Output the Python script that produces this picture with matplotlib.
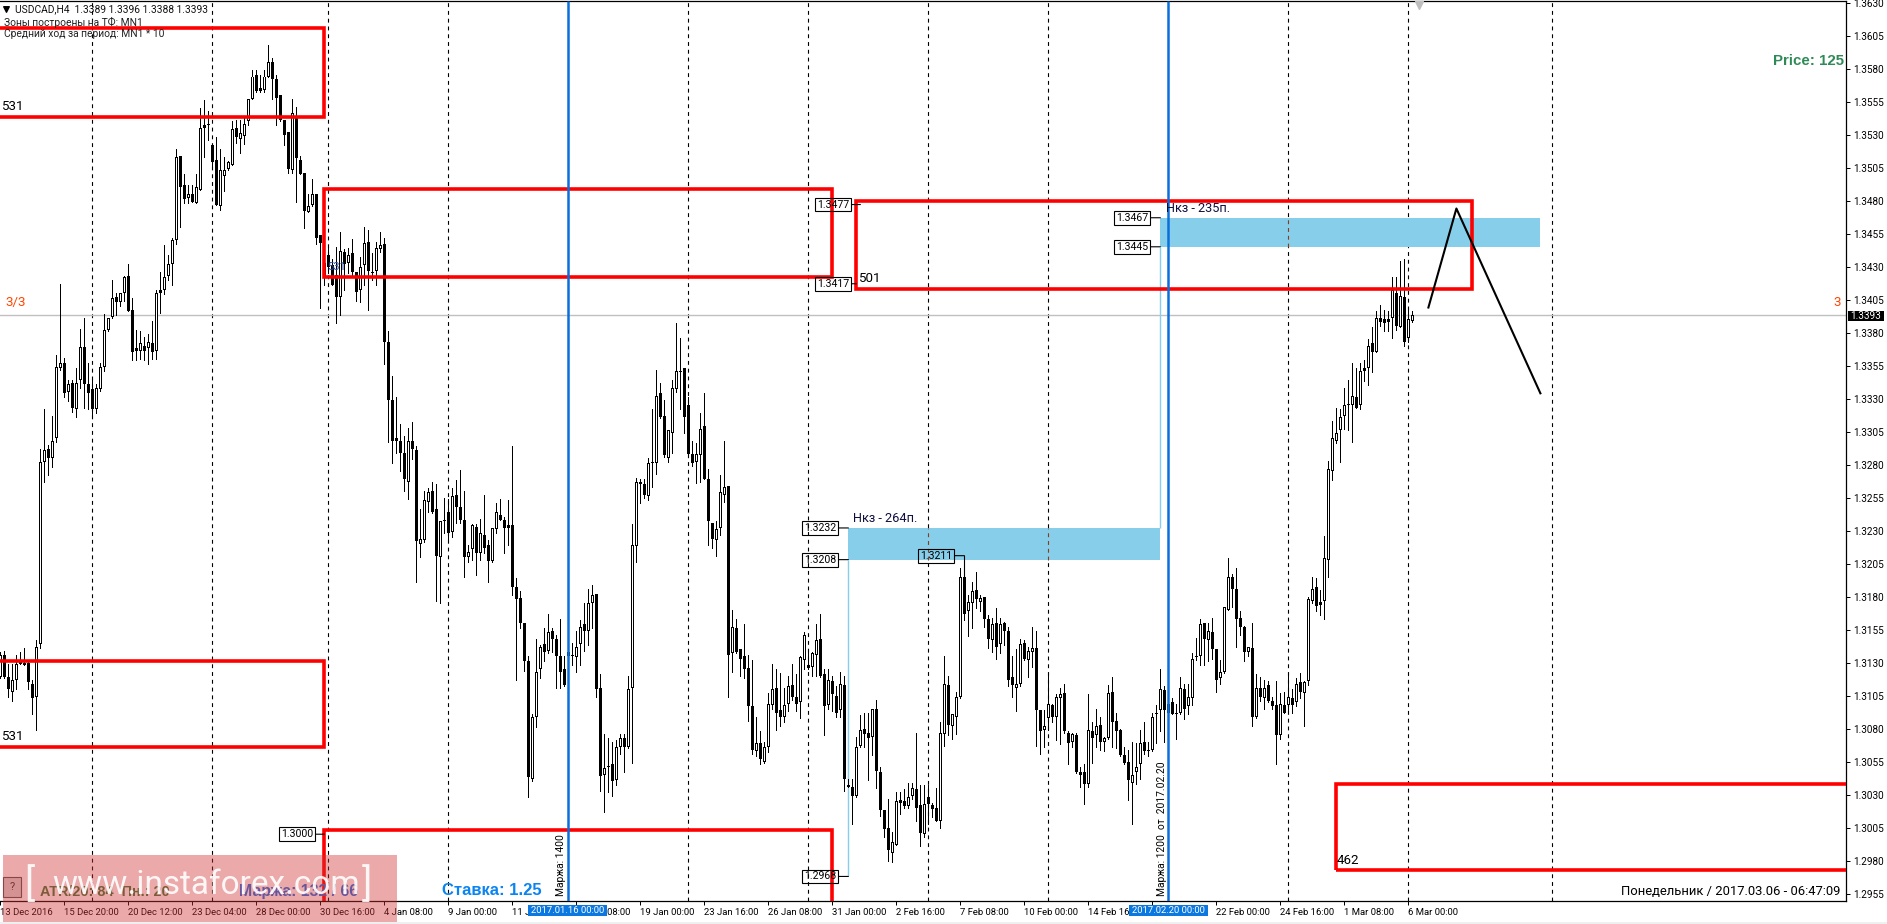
import matplotlib
matplotlib.use("Agg")
import matplotlib.pyplot as plt
from matplotlib.patches import Rectangle

plt.rcParams["font.family"] = ["Roboto", "DejaVu Sans"]

W, H = 1887, 924

# USDCAD H4, prices in points (13393 = 1.3393), one value per bar
opens = [
    13119, 13136, 13119, 13108, 13117, 13132, 13130, 13130, 13114, 13104,
    13144, 13282, 13292, 13285, 13300, 13353, 13357, 13335, 13342, 13322,
    13344, 13369, 13341, 13337, 13322, 13337, 13354, 13382, 13392, 13407,
    13403, 13410, 13423, 13397, 13366, 13366, 13370, 13368, 13372, 13366,
    13412, 13412, 13423, 13432, 13450, 13514, 13492, 13482, 13485, 13478,
    13488, 13535, 13538, 13522, 13511, 13476, 13499, 13504, 13507, 13535,
    13527, 13529, 13540, 13557, 13575, 13565, 13564, 13574, 13585, 13572,
    13560, 13541, 13532, 13503, 13544, 13511, 13501, 13471, 13477, 13485,
    13454, 13423, 13439, 13431, 13424, 13407, 13441, 13433, 13440, 13426,
    13412, 13431, 13449, 13426, 13427, 13443, 13447, 13373, 13329, 13298,
    13298, 13289, 13267, 13298, 13291, 13220, 13223, 13252, 13260, 13246,
    13210, 13238, 13244, 13229, 13257, 13248, 13238, 13210, 13216, 13233,
    13213, 13227, 13219, 13207, 13231, 13242, 13238, 13234, 13234, 13187,
    13179, 13160, 13131, 13042, 13089, 13125, 13144, 13139, 13154, 13148,
    13135, 13125, 13138, 13136, 13134, 13144, 13159, 13154, 13175, 13182,
    13111, 13045, 13051, 13053, 13041, 13066, 13073, 13066, 13111, 13218,
    13267, 13265, 13256, 13282, 13281, 13334, 13317, 13285, 13304, 13337,
    13351, 13353, 13325, 13288, 13282, 13287, 13309, 13269, 13236, 13223,
    13232, 13257, 13264, 13137, 13156, 13140, 13135, 13126, 13097, 13063,
    13069, 13055, 13066, 13098, 13111, 13094, 13089, 13099, 13113, 13104,
    13100, 13132, 13128, 13127, 13136, 13148, 13121, 13098, 13116, 13105,
    13094, 13113, 13037, 13036, 13029, 13067, 13080, 13077, 13074, 13095,
    13047, 13018, 13005, 12986, 12992, 13024, 13025, 13021, 13029, 13034,
    13022, 13000, 13028, 13022, 13020, 13010, 13076, 13113, 13082, 13089,
    13104, 13195, 13169, 13175, 13185, 13176, 13180, 13163, 13147, 13160,
    13144, 13160, 13154, 13119, 13111, 13114, 13145, 13132, 13138, 13141,
    13094, 13079, 13088, 13098, 13089, 13103, 13107, 13077, 13070, 13075,
    13047, 13047, 13038, 13078, 13075, 13083, 13070, 13073, 13108, 13086,
    13079, 13060, 13055, 13039, 13047, 13053, 13070, 13064, 13064, 13091,
    13094, 13109, 13099, 13100, 13092, 13092, 13110, 13097, 13103, 13135,
    13135, 13160, 13147, 13153, 13140, 13118, 13123, 13170, 13195, 13186,
    13164, 13157, 13138, 13141, 13089, 13111, 13103, 13113, 13101, 13098,
    13075, 13098, 13098, 13103, 13100, 13115, 13107, 13116, 13177, 13187,
    13174, 13177, 13208, 13275, 13298, 13306, 13317, 13326, 13325, 13331,
    13325, 13353, 13353, 13372, 13365, 13391, 13390, 13388, 13391, 13410,
    13384, 13407, 13376, 13389,
]
highs = [
    13138, 13139, 13129, 13129, 13136, 13138, 13141, 13131, 13117, 13147,
    13292, 13322, 13295, 13317, 13363, 13417, 13361, 13344, 13344, 13353,
    13383, 13391, 13357, 13345, 13341, 13357, 13394, 13391, 13420, 13410,
    13410, 13423, 13432, 13406, 13382, 13381, 13377, 13379, 13389, 13412,
    13426, 13446, 13439, 13452, 13519, 13514, 13500, 13492, 13492, 13500,
    13550, 13556, 13548, 13522, 13528, 13519, 13513, 13510, 13540, 13541,
    13541, 13543, 13557, 13579, 13579, 13575, 13579, 13598, 13588, 13575,
    13560, 13541, 13532, 13557, 13551, 13514, 13501, 13485, 13496, 13485,
    13454, 13439, 13445, 13436, 13445, 13456, 13443, 13444, 13451, 13426,
    13437, 13460, 13458, 13440, 13449, 13456, 13452, 13381, 13347, 13331,
    13311, 13302, 13308, 13312, 13294, 13246, 13260, 13262, 13267, 13265,
    13237, 13255, 13254, 13262, 13268, 13276, 13260, 13219, 13235, 13235,
    13239, 13257, 13223, 13232, 13251, 13254, 13240, 13253, 13294, 13194,
    13184, 13160, 13135, 13091, 13148, 13143, 13156, 13167, 13156, 13151,
    13163, 13135, 13145, 13145, 13154, 13162, 13175, 13186, 13189, 13182,
    13121, 13076, 13073, 13070, 13071, 13076, 13076, 13120, 13235, 13270,
    13269, 13269, 13285, 13322, 13352, 13342, 13329, 13306, 13344, 13387,
    13376, 13353, 13331, 13298, 13296, 13319, 13334, 13277, 13236, 13237,
    13272, 13298, 13264, 13170, 13163, 13140, 13159, 13136, 13132, 13089,
    13078, 13070, 13107, 13129, 13125, 13122, 13111, 13120, 13129, 13121,
    13135, 13153, 13140, 13138, 13159, 13167, 13125, 13125, 13120, 13112,
    13123, 13120, 13042, 13042, 13074, 13090, 13092, 13092, 13095, 13102,
    13051, 13018, 13027, 13002, 13032, 13032, 13034, 13039, 13039, 13077,
    13037, 13037, 13037, 13024, 13035, 13085, 13135, 13120, 13091, 13108,
    13202, 13211, 13181, 13191, 13199, 13181, 13180, 13166, 13164, 13171,
    13164, 13161, 13157, 13135, 13140, 13148, 13147, 13142, 13157, 13154,
    13094, 13094, 13122, 13099, 13106, 13111, 13114, 13078, 13077, 13077,
    13051, 13053, 13106, 13085, 13095, 13089, 13074, 13113, 13119, 13092,
    13080, 13066, 13064, 13070, 13069, 13079, 13085, 13070, 13092, 13098,
    13125, 13112, 13112, 13103, 13099, 13119, 13114, 13114, 13137, 13149,
    13163, 13160, 13160, 13164, 13140, 13132, 13172, 13209, 13197, 13202,
    13169, 13158, 13142, 13160, 13121, 13119, 13117, 13116, 13104, 13116,
    13107, 13108, 13122, 13110, 13118, 13122, 13116, 13180, 13195, 13194,
    13185, 13226, 13283, 13313, 13323, 13322, 13338, 13344, 13357, 13353,
    13357, 13359, 13375, 13384, 13396, 13401, 13397, 13396, 13422, 13422,
    13434, 13436, 13399, 13396,
]
lows = [
    13118, 13118, 13104, 13101, 13110, 13129, 13128, 13110, 13091, 13079,
    13141, 13267, 13272, 13278, 13297, 13352, 13331, 13328, 13320, 13316,
    13338, 13323, 13322, 13315, 13319, 13336, 13351, 13381, 13391, 13393,
    13400, 13404, 13396, 13359, 13359, 13360, 13359, 13356, 13360, 13360,
    13395, 13409, 13420, 13416, 13447, 13460, 13478, 13478, 13479, 13478,
    13488, 13513, 13526, 13506, 13477, 13473, 13487, 13503, 13507, 13524,
    13516, 13523, 13537, 13557, 13562, 13562, 13562, 13574, 13557, 13537,
    13540, 13522, 13501, 13501, 13479, 13500, 13459, 13471, 13476, 13447,
    13399, 13416, 13425, 13416, 13387, 13393, 13412, 13425, 13422, 13404,
    13403, 13416, 13397, 13420, 13416, 13441, 13356, 13297, 13281, 13289,
    13275, 13260, 13254, 13284, 13191, 13210, 13221, 13244, 13243, 13177,
    13175, 13228, 13224, 13225, 13236, 13236, 13195, 13206, 13208, 13196,
    13208, 13213, 13191, 13206, 13228, 13238, 13213, 13219, 13181, 13117,
    13156, 13124, 13028, 13040, 13081, 13118, 13131, 13137, 13138, 13111,
    13111, 13112, 13124, 13128, 13123, 13128, 13139, 13143, 13156, 13104,
    13033, 13017, 13032, 13029, 13037, 13061, 13047, 13065, 13054, 13206,
    13251, 13255, 13253, 13263, 13273, 13315, 13286, 13282, 13289, 13335,
    13322, 13304, 13288, 13279, 13266, 13267, 13269, 13219, 13217, 13211,
    13227, 13252, 13104, 13123, 13137, 13120, 13118, 13086, 13061, 13059,
    13053, 13054, 13062, 13095, 13079, 13082, 13085, 13093, 13102, 13093,
    13088, 13125, 13125, 13120, 13120, 13119, 13075, 13095, 13093, 13089,
    13089, 13033, 13036, 13008, 13028, 13066, 13066, 13041, 13060, 13035,
    13014, 12998, 12980, 12979, 12992, 13015, 13020, 13020, 13027, 13010,
    12991, 12998, 13008, 13013, 13010, 13005, 13067, 13075, 13072, 13076,
    13103, 13162, 13150, 13156, 13171, 13169, 13157, 13141, 13138, 13133,
    13137, 13143, 13112, 13104, 13093, 13112, 13132, 13119, 13127, 13067,
    13061, 13066, 13079, 13085, 13071, 13068, 13077, 13053, 13066, 13046,
    13036, 13023, 13036, 13054, 13066, 13064, 13063, 13072, 13066, 13065,
    13059, 13053, 13026, 13008, 13038, 13042, 13061, 13059, 13063, 13069,
    13078, 13070, 13090, 13091, 13072, 13091, 13087, 13091, 13098, 13132,
    13128, 13128, 13131, 13133, 13108, 13114, 13122, 13170, 13172, 13142,
    13151, 13131, 13135, 13082, 13088, 13101, 13095, 13100, 13095, 13053,
    13072, 13092, 13092, 13092, 13097, 13103, 13082, 13113, 13175, 13169,
    13166, 13163, 13195, 13268, 13296, 13282, 13307, 13306, 13297, 13323,
    13322, 13343, 13340, 13350, 13365, 13385, 13381, 13381, 13376, 13382,
    13384, 13370, 13373, 13388,
]
closes = [
    13136, 13119, 13110, 13117, 13129, 13129, 13128, 13115, 13103, 13142,
    13282, 13291, 13285, 13298, 13354, 13357, 13334, 13341, 13323, 13342,
    13369, 13341, 13334, 13322, 13338, 13354, 13382, 13391, 13406, 13403,
    13410, 13422, 13396, 13365, 13368, 13372, 13366, 13373, 13365, 13410,
    13410, 13422, 13432, 13450, 13513, 13490, 13481, 13485, 13479, 13490,
    13535, 13537, 13537, 13509, 13477, 13503, 13503, 13509, 13534, 13528,
    13531, 13538, 13557, 13574, 13563, 13563, 13574, 13585, 13572, 13558,
    13541, 13530, 13504, 13546, 13512, 13500, 13472, 13476, 13485, 13452,
    13448, 13433, 13430, 13416, 13407, 13442, 13432, 13439, 13426, 13411,
    13430, 13448, 13427, 13425, 13444, 13446, 13373, 13329, 13298, 13300,
    13289, 13269, 13298, 13292, 13222, 13224, 13253, 13259, 13244, 13211,
    13237, 13237, 13228, 13256, 13248, 13238, 13210, 13214, 13234, 13213,
    13228, 13217, 13207, 13232, 13244, 13238, 13232, 13232, 13187, 13178,
    13160, 13131, 13043, 13089, 13123, 13142, 13138, 13153, 13148, 13135,
    13123, 13113, 13135, 13135, 13142, 13157, 13154, 13175, 13181, 13110,
    13044, 13050, 13052, 13040, 13066, 13073, 13066, 13110, 13219, 13267,
    13265, 13257, 13281, 13281, 13332, 13316, 13287, 13306, 13338, 13351,
    13350, 13316, 13288, 13281, 13288, 13307, 13269, 13237, 13224, 13231,
    13259, 13263, 13136, 13157, 13138, 13133, 13125, 13097, 13064, 13069,
    13057, 13066, 13099, 13110, 13092, 13089, 13098, 13112, 13104, 13099,
    13134, 13151, 13126, 13137, 13147, 13120, 13097, 13117, 13106, 13092,
    13114, 13042, 13036, 13029, 13066, 13079, 13076, 13073, 13095, 13048,
    13018, 13004, 12988, 12994, 13025, 13026, 13021, 13028, 13035, 13020,
    13001, 13023, 13023, 13019, 13010, 13077, 13114, 13083, 13091, 13104,
    13195, 13167, 13176, 13184, 13178, 13179, 13163, 13148, 13159, 13142,
    13159, 13154, 13117, 13113, 13114, 13144, 13133, 13139, 13141, 13094,
    13078, 13082, 13099, 13089, 13104, 13106, 13078, 13069, 13076, 13047,
    13045, 13038, 13079, 13073, 13082, 13070, 13073, 13107, 13085, 13078,
    13060, 13054, 13041, 13045, 13051, 13069, 13063, 13063, 13089, 13092,
    13110, 13094, 13092, 13091, 13091, 13111, 13095, 13104, 13133, 13134,
    13159, 13148, 13154, 13140, 13117, 13123, 13172, 13195, 13186, 13163,
    13157, 13138, 13142, 13089, 13111, 13104, 13111, 13101, 13097, 13075,
    13099, 13092, 13104, 13098, 13114, 13108, 13115, 13178, 13186, 13173,
    13176, 13209, 13277, 13300, 13304, 13316, 13325, 13325, 13332, 13323,
    13351, 13351, 13370, 13365, 13391, 13388, 13387, 13390, 13412, 13385,
    13408, 13373, 13390, 13393,
]

# Bars where the weekly separators sit, and the two margin lines
week_bars = [23, 53, 82, 112, 172, 202, 232, 262, 322, 352, 388]
marker_bars = [142, 292]

date_ticks = list(range(0, 368, 16))
date_labels = ["13 Dec 2016", "15 Dec 20:00", "20 Dec 12:00", "23 Dec 04:00", "28 Dec 00:00", "30 Dec 16:00",
               "4 Jan 08:00", "9 Jan 00:00", "11 Jan 16:00", "16 Jan 08:00", "19 Jan 00:00", "23 Jan 16:00",
               "26 Jan 08:00", "31 Jan 00:00", "2 Feb 16:00", "7 Feb 08:00", "10 Feb 00:00", "14 Feb 16:00",
               "17 Feb 08:00", "22 Feb 00:00", "24 Feb 16:00", "1 Mar 08:00", "6 Mar 00:00"]

price_ticks = [12955 + 25 * i for i in range(28)]

# Zones: left bar, right bar, low, high
red_left = [-5, -5, 81, 81, 214, 334]
red_right = [81, 81, 208, 208, 368, 500]
red_low = [13543, 13066, 13422, 12938, 13413, 12973]
red_high = [13611, 13131, 13489, 13003, 13480, 13038]

blue_left = [212, 290]
blue_right = [290, 385]
blue_low = [13208, 13445]
blue_high = [13232, 13467]

# Forecast drawn by hand on the chart
forecast_bars = [357, 364, 385]
forecast_prices = [13399, 13474, 13334]

fig = plt.figure(figsize=(W / 100, H / 100), dpi=100)
ax = fig.add_axes([0, (H - 901) / H, 1846 / W, 900 / H])
ax.set_xlim(-0.1, 461.4)
ax.set_ylim(12949.4, 13631.2)

for s in ["left"]:
    ax.spines[s].set_visible(False)
for s in ["top", "right", "bottom"]:
    ax.spines[s].set_linewidth(0.9)

ax.yaxis.tick_right()
ax.set_yticks(price_ticks)
ax.set_yticklabels([f"{p / 10000:.4f}" for p in price_ticks], fontsize=7.2, color="black")
ax.tick_params(axis="y", length=3, width=0.72, pad=2.5)
ax.set_xticks(date_ticks)
ax.set_xticklabels(date_labels, fontsize=6.8, ha="left")
ax.tick_params(axis="x", length=3, width=0.72, pad=2)

# Background lines
ax.vlines(week_bars, 12949.4, 13631.2, colors="black", linewidth=0.8, linestyles=(0, (3.5, 3.5)), zorder=1)
ax.axhline(13393, color="#C0C0C0", linewidth=1, zorder=1)

for a, b, lo, hi in zip(blue_left, blue_right, blue_low, blue_high):
    ax.add_patch(Rectangle((a, lo), b - a, hi - lo, facecolor="#87CEEB", edgecolor="none", zorder=1.5))
ax.vlines([232, 262], 13208, 13232, colors="#8B3A1A", linewidth=0.8, linestyles=(0, (3.5, 3.5)), zorder=1.6)
ax.vlines([322], 13445, 13467, colors="#8B3A1A", linewidth=0.8, linestyles=(0, (3.5, 3.5)), zorder=1.6)
ax.vlines([212], 12968, 13208, colors="#87CEEB", linewidth=1, zorder=1.5)
ax.vlines([290], 13232, 13445, colors="#87CEEB", linewidth=1, zorder=1.5)

# Candles: black block for every body, then a hollow centre for the up bars
bars = list(range(len(opens)))
ax.vlines(bars, lows, highs, colors="black", linewidth=0.72, antialiased=False, zorder=2)
bottoms = [min(o, c) for o, c in zip(opens, closes)]
sizes = [max(abs(o - c), 1) for o, c in zip(opens, closes)]
ax.bar(bars, sizes, bottom=bottoms, width=0.75, color="black", linewidth=0, antialiased=False, zorder=3)
up = [i for i in bars if closes[i] >= opens[i] and sizes[i] > 2]
ax.bar(up, [sizes[i] - 1.5 for i in up], bottom=[bottoms[i] + 0.75 for i in up], width=0.25,
       color="white", linewidth=0, antialiased=False, zorder=3.1)

for a, b, lo, hi in zip(red_left, red_right, red_low, red_high):
    ax.add_patch(Rectangle((a, lo), b - a, hi - lo, fill=False, edgecolor="red", linewidth=2.6,
                           joinstyle="miter", zorder=4))

ax.vlines(marker_bars, 12949.4, 13631.2, colors="#0A6FDC", linewidth=1.8, zorder=4)
ax.plot(forecast_bars, forecast_prices, color="black", linewidth=1.5, zorder=5)
ax.scatter([354.6], [13628], marker="v", s=32, color="#BEBEBE", zorder=5, clip_on=False)


def price_box(text, price, box_bar, end_bar, end_price=None):
    ax.annotate(text, xy=(end_bar, price), xytext=(box_bar, price), ha="right", va="center",
                fontsize=7.6, color="black", zorder=6, annotation_clip=False,
                bbox=dict(boxstyle="square,pad=0.18", facecolor="none", edgecolor="black", linewidth=0.8),
                arrowprops=dict(arrowstyle="-", color="black", linewidth=0.8, shrinkA=0, shrinkB=0))
    if end_price is not None:
        ax.plot([end_bar, end_bar], [price, end_price], color="black", linewidth=0.8, zorder=6)


price_box("1.3477", 13477, 212.2, 215)
price_box("1.3417", 13417, 212.2, 214)
price_box("1.3467", 13467, 287, 290)
price_box("1.3445", 13445, 287, 290)
price_box("1.3232", 13232, 209, 212)
price_box("1.3208", 13208, 209, 212)
price_box("1.3211", 13211, 238, 241, 13190)
price_box("1.3000", 13000, 78.2, 81)
price_box("1.2968", 12968, 209, 212)


def label(x, y, text, **kw):
    kw.setdefault("fontsize", 7.4)
    kw.setdefault("va", "center")
    kw.setdefault("color", "black")
    kw.setdefault("zorder", 7)
    fig.text(x / W, 1 - y / H, text, **kw)


label(15, 9.5, "USDCAD,H4  1.3389 1.3396 1.3388 1.3393", color="#111111")
ax.scatter([1.5], [13625], marker="v", s=16, color="black", zorder=7, clip_on=False)
label(4, 22, "Зоны построены на ТФ: MN1", color="#222222")
label(4, 34, "Средний ход за период: MN1 * 10", color="#222222")

label(1, 107, "531", fontsize=9.6)
label(1, 737, "531", fontsize=9.6)
label(327, 267, "531", fontsize=8, color="#2A4FA0", zorder=2)
label(858, 279, "501", fontsize=9.6)
label(1337, 861, "462", fontsize=9.6)
label(853, 518, "Нкз - 264п.", fontsize=9.2, color="#101040")
label(1166, 208, "Нкз - 235п.", fontsize=9.2, color="#101040")

label(5, 302.5, "3/3", fontsize=9.6, color="#FF4500")
label(1833, 302.5, "3", fontsize=9.6, color="#FF4500", ha="left")
label(1844, 61, "Price: 125", fontsize=10.8, fontweight="bold", color="#2E8B57", ha="right", family="Liberation Sans")

label(1840, 891.5, "Понедельник / 2017.03.06 - 06:47:09", fontsize=9.4, ha="right")
label(561, 896, "Маржа: 1400", fontsize=7.4, rotation=90, va="bottom", ha="center")
label(1162, 896, "Маржа: 1200  от  2017.02.20", fontsize=7.4, rotation=90, va="bottom", ha="center")

# Selected dates on the time axis
for x0, x1, text in [(528, 607, "2017.01.16 00:00"), (1129, 1208, "2017.02.20 00:00")]:
    fig.add_artist(Rectangle((x0 / W, 1 - 916 / H), (x1 - x0) / W, 11 / H, transform=fig.transFigure,
                             facecolor="#0A78E0", edgecolor="none", zorder=6))
    label((x0 + x1) / 2, 910.5, text, color="white", ha="center", fontsize=6.8)

# Price tag on the right axis
fig.add_artist(Rectangle((1848 / W, 1 - 321 / H), 36 / W, 10.5 / H, transform=fig.transFigure,
                         facecolor="black", edgecolor="none", zorder=6))
label(1866, 315.7, "1.3393", color="white", ha="center", fontsize=7.2)

# Bottom left info and watermark
label(40, 891.5, "ATR/20: 84  Пн.: 20", fontsize=10.4, fontweight="bold", color="#3C7A3C", family="Liberation Sans")
label(239, 891.5, "Маржа: 132 / 66", fontsize=11.4, fontweight="bold", color="#1E70E8", family="Liberation Sans")
label(442, 890.5, "Ставка: 1.25", fontsize=12, fontweight="bold", color="#0A84F0", family="Liberation Sans")
fig.add_artist(Rectangle((3 / W, 1 - 897 / H), 18 / W, 20 / H, transform=fig.transFigure,
                         facecolor="#D8D8D8", edgecolor="#555555", linewidth=0.8, zorder=6))
label(12, 887, "?", fontsize=8, ha="center", color="#333333")
fig.add_artist(Rectangle((3 / W, 1 - 922 / H), 394 / W, 67 / H, transform=fig.transFigure,
                         facecolor="#D13333", edgecolor="none", alpha=0.42, zorder=8))
label(24, 885, "[", fontsize=28, color="white", alpha=0.9, zorder=9)
label(52, 885, "www.instaforex.com", fontsize=24, color="white", alpha=0.9, zorder=9)
label(362, 885, "]", fontsize=28, color="white", alpha=0.9, zorder=9)

# Thin grey strip under the chart window
fig.add_artist(Rectangle((0, 0), 1, 2.5 / H, transform=fig.transFigure, facecolor="#EFEFEF", edgecolor="none"))

fig.savefig("out.png", dpi=100)
